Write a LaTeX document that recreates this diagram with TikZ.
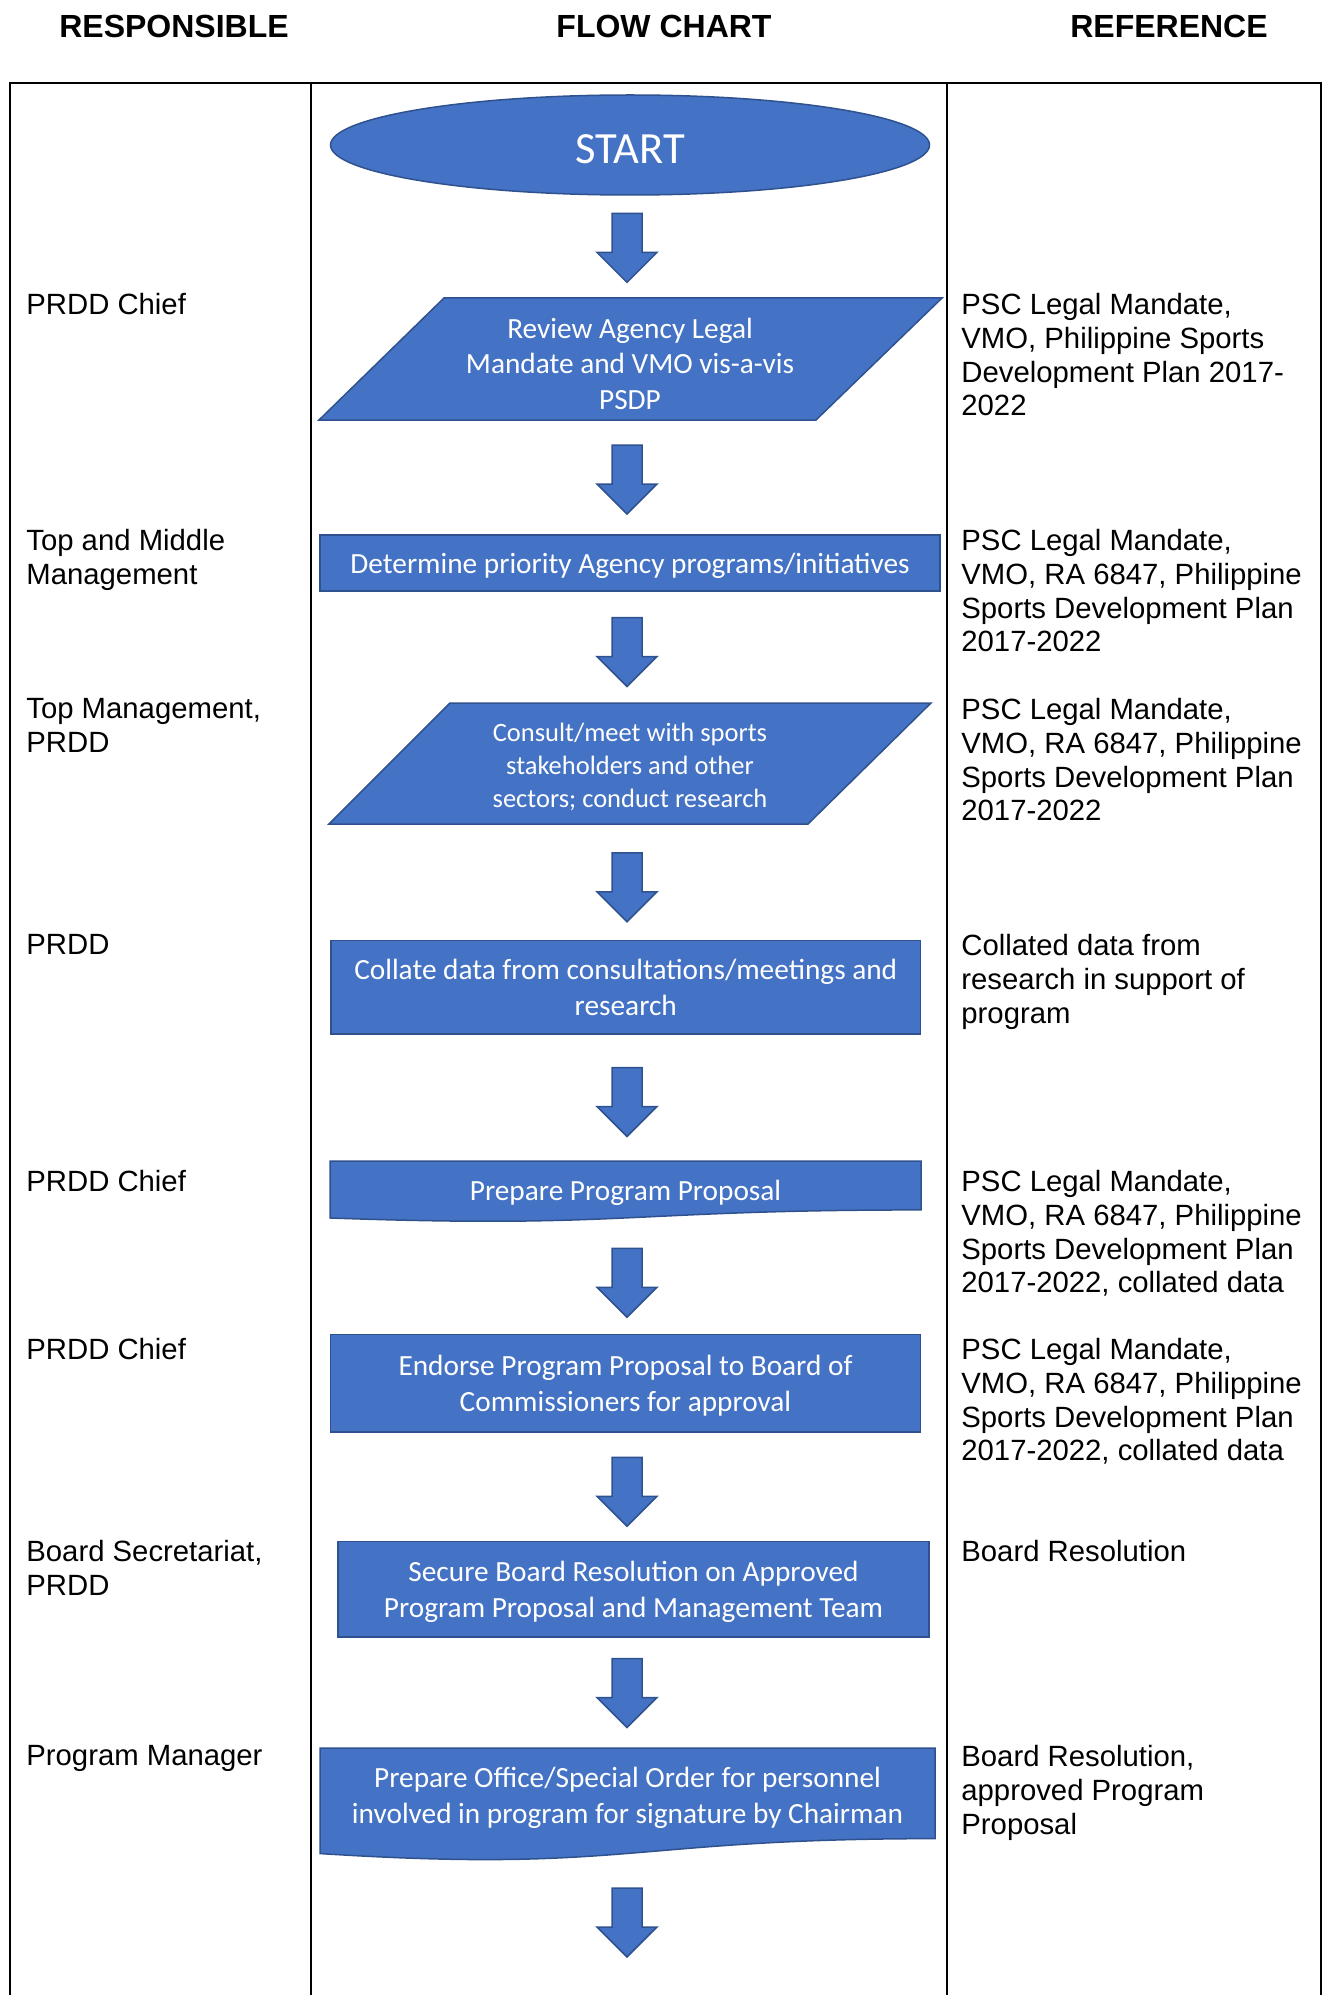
\documentclass[tikz,border=0pt]{standalone}
\usepackage{fontspec}
\setmainfont{Liberation Sans}
\newfontfamily\calibrifont{Carlito}
\usetikzlibrary{shapes.geometric,calc}
\definecolor{flowblue}{HTML}{4472C4}
\definecolor{flowedge}{HTML}{2F528F}
\begin{document}
\begin{tikzpicture}[x=0.5pt,y=-0.5pt,
  flowshape/.style={fill=flowblue,draw=flowedge,line width=0.75pt},
  shapeframe/.style={rectangle,draw=none,inner sep=0pt,outer sep=0pt},
  flowtext/.style={text=white,font=\calibrifont\fontsize{14.65}{17.75}\selectfont,align=center,inner sep=0pt,text depth=0pt},
  smalltext/.style={flowtext,font=\calibrifont\fontsize{13.25}{16.5}\selectfont},
  procbox/.style={rectangle,flowshape,flowtext,outer sep=0pt},
  coltext/.style={font=\fontsize{14.65}{16.85}\selectfont,align=left,anchor=north west,inner sep=0pt},
  headtext/.style={font=\bfseries\fontsize{16}{19}\selectfont,anchor=base,inner sep=0pt},
  tableline/.style={line width=1.3pt,black},
  pics/darrow/.style={code={\draw[flowshape] (-15,-34.5) -- (15,-34.5) -- (15,4.5) -- (30,4.5) -- (0,34.5) -- (-30,4.5) -- (-15,4.5) -- cycle;}}
]
\useasboundingbox (0,0) rectangle (1324,1995);

% headers
\node[headtext] (hresp) at (174,38) {RESPONSIBLE};
\node[headtext] (hflow) at (664,38) {FLOW CHART};
\node[headtext] (href) at (1169,38) {REFERENCE};

% table
\draw[tableline] (10,1995) -- (10,83) -- (1321,83) -- (1321,1995);
\draw[tableline] (311,83) -- (311,1995);
\draw[tableline] (947,83) -- (947,1995);

% responsible column
\node[coltext] (r1) at (26,293) {PRDD Chief};
\node[coltext] (r2) at (26,529) {Top and Middle\\Management};
\node[coltext] (r3) at (26,698) {Top Management,\\PRDD};
\node[coltext] (r4) at (26,934) {PRDD};
\node[coltext] (r5) at (26,1170) {PRDD Chief};
\node[coltext] (r6) at (26,1338) {PRDD Chief};
\node[coltext] (r7) at (26,1540) {Board Secretariat,\\PRDD};
\node[coltext] (r8) at (26,1745) {Program Manager};

% reference column
\node[coltext] (q1) at (961,293) {PSC Legal Mandate,\\VMO, Philippine Sports\\Development Plan 2017-\\2022};
\node[coltext] (q2) at (961,529) {PSC Legal Mandate,\\VMO, RA 6847, Philippine\\Sports Development Plan\\2017-2022};
\node[coltext] (q3) at (961,698) {PSC Legal Mandate,\\VMO, RA 6847, Philippine\\Sports Development Plan\\2017-2022};
\node[coltext] (q4) at (961,934) {Collated data from\\research in support of\\program};
\node[coltext] (q5) at (961,1170) {PSC Legal Mandate,\\VMO, RA 6847, Philippine\\Sports Development Plan\\2017-2022, collated data};
\node[coltext] (q6) at (961,1338) {PSC Legal Mandate,\\VMO, RA 6847, Philippine\\Sports Development Plan\\2017-2022, collated data};
\node[coltext] (q7) at (961,1540) {Board Resolution};
\node[coltext] (q8) at (961,1745) {Board Resolution,\\approved Program\\Proposal};

% flow chart
\coordinate (axis) at (627,0);

\node[ellipse,flowshape,minimum width=299.5pt,minimum height=50pt,inner sep=0pt] (start) at (630,145) {};
\node[text=white,inner sep=0pt,font=\calibrifont\fontsize{22.3}{26}\selectfont] (startlabel) at (630,149) {START};

% step 1: parallelogram
\node[shapeframe,minimum width=311.5pt,minimum height=61pt] (f1) at (630.5,359) {};
\draw[flowshape] (f1.south west) -- ($(f1.north west)+(125,0)$) -- (f1.north east) -- ($(f1.south east)+(-126,0)$) -- cycle;
\node[flowtext] (t1) at (630,363.5) {Review Agency Legal\\Mandate and VMO vis-a-vis\\PSDP};

% step 2
\node[procbox,minimum width=310pt,minimum height=28pt] (n2) at (630,563) {Determine priority Agency programs/initiatives};

% step 3: parallelogram
\node[shapeframe,minimum width=301pt,minimum height=60.5pt] (f3) at (630,763.5) {};
\draw[flowshape] (f3.south west) -- ($(f3.north west)+(121,0)$) -- (f3.north east) -- ($(f3.south east)+(-123,0)$) -- cycle;
\node[smalltext] (t3) at (630,765.5) {Consult/meet with sports\\stakeholders and other\\sectors; conduct research};

% step 4
\node[procbox,minimum width=294.75pt,minimum height=46.75pt] (n4) at (625.75,987.25) {Collate data from consultations/meetings and\\research};

% step 5: document
\node[shapeframe,minimum width=295.5pt,minimum height=30.5pt] (d5) at (625.5,1191.5) {};
\draw[flowshape] (d5.north west) -- (d5.north east) -- ($(d5.north east)!0.802!(d5.south east)$) .. controls ($(d5.north)!0.802!(d5.south)$) and ($(d5.north)!1.1075!(d5.south)$) .. ($(d5.north west)!0.934!(d5.south west)$) -- cycle;
\node[flowtext] (t5) at (625.5,1190) {Prepare Program Proposal};

% step 6
\node[procbox,minimum width=295pt,minimum height=48.75pt] (n6) at (625.5,1383.25) {Endorse Program Proposal to Board of\\Commissioners for approval};

% step 7
\node[procbox,minimum width=295.5pt,minimum height=47.75pt] (n7) at (633.5,1589.25) {Secure Board Resolution on Approved\\Program Proposal and Management Team};

% step 8: document
\node[shapeframe,minimum width=307.5pt,minimum height=56.5pt] (d8) at (627.5,1804.5) {};
\draw[flowshape] (d8.north west) -- (d8.north east) -- ($(d8.north east)!0.802!(d8.south east)$) .. controls ($(d8.north)!0.802!(d8.south)$) and ($(d8.north)!1.1075!(d8.south)$) .. ($(d8.north west)!0.934!(d8.south west)$) -- cycle;
\node[flowtext] (t8) at (627.5,1795.5) {Prepare Office/Special Order for personnel\\involved in program for signature by Chairman};

% block arrows
\coordinate (m1) at ($(start.south)!0.5!(f1.north)+(0,1)$);
\coordinate (m2) at ($(f1.south)!0.5!(n2.north)+(0,2)$);
\coordinate (m3) at ($(n2.south)!0.5!(f3.north)+(0,5)$);
\coordinate (m4) at ($(f3.south)!0.5!(n4.north)+(0,5)$);
\coordinate (m5) at ($(n4.south)!0.5!(d5.north)+(0,4.5)$);
\coordinate (m6) at ($(d5.south)!0.5!(n6.north)+(0,4.5)$);
\coordinate (m7) at ($(n6.south)!0.5!(n7.north)+(0,5)$);
\coordinate (m8) at ($(n7.south)!0.5!(d8.north)+(0,0.5)$);
\coordinate (m9) at ($(d8.south)+(0,61.5)$);
\foreach \m in {m1,m2,m3,m4,m5,m6,m7,m8,m9}
  \pic at (\m -| axis) {darrow};
\end{tikzpicture}
\end{document}
